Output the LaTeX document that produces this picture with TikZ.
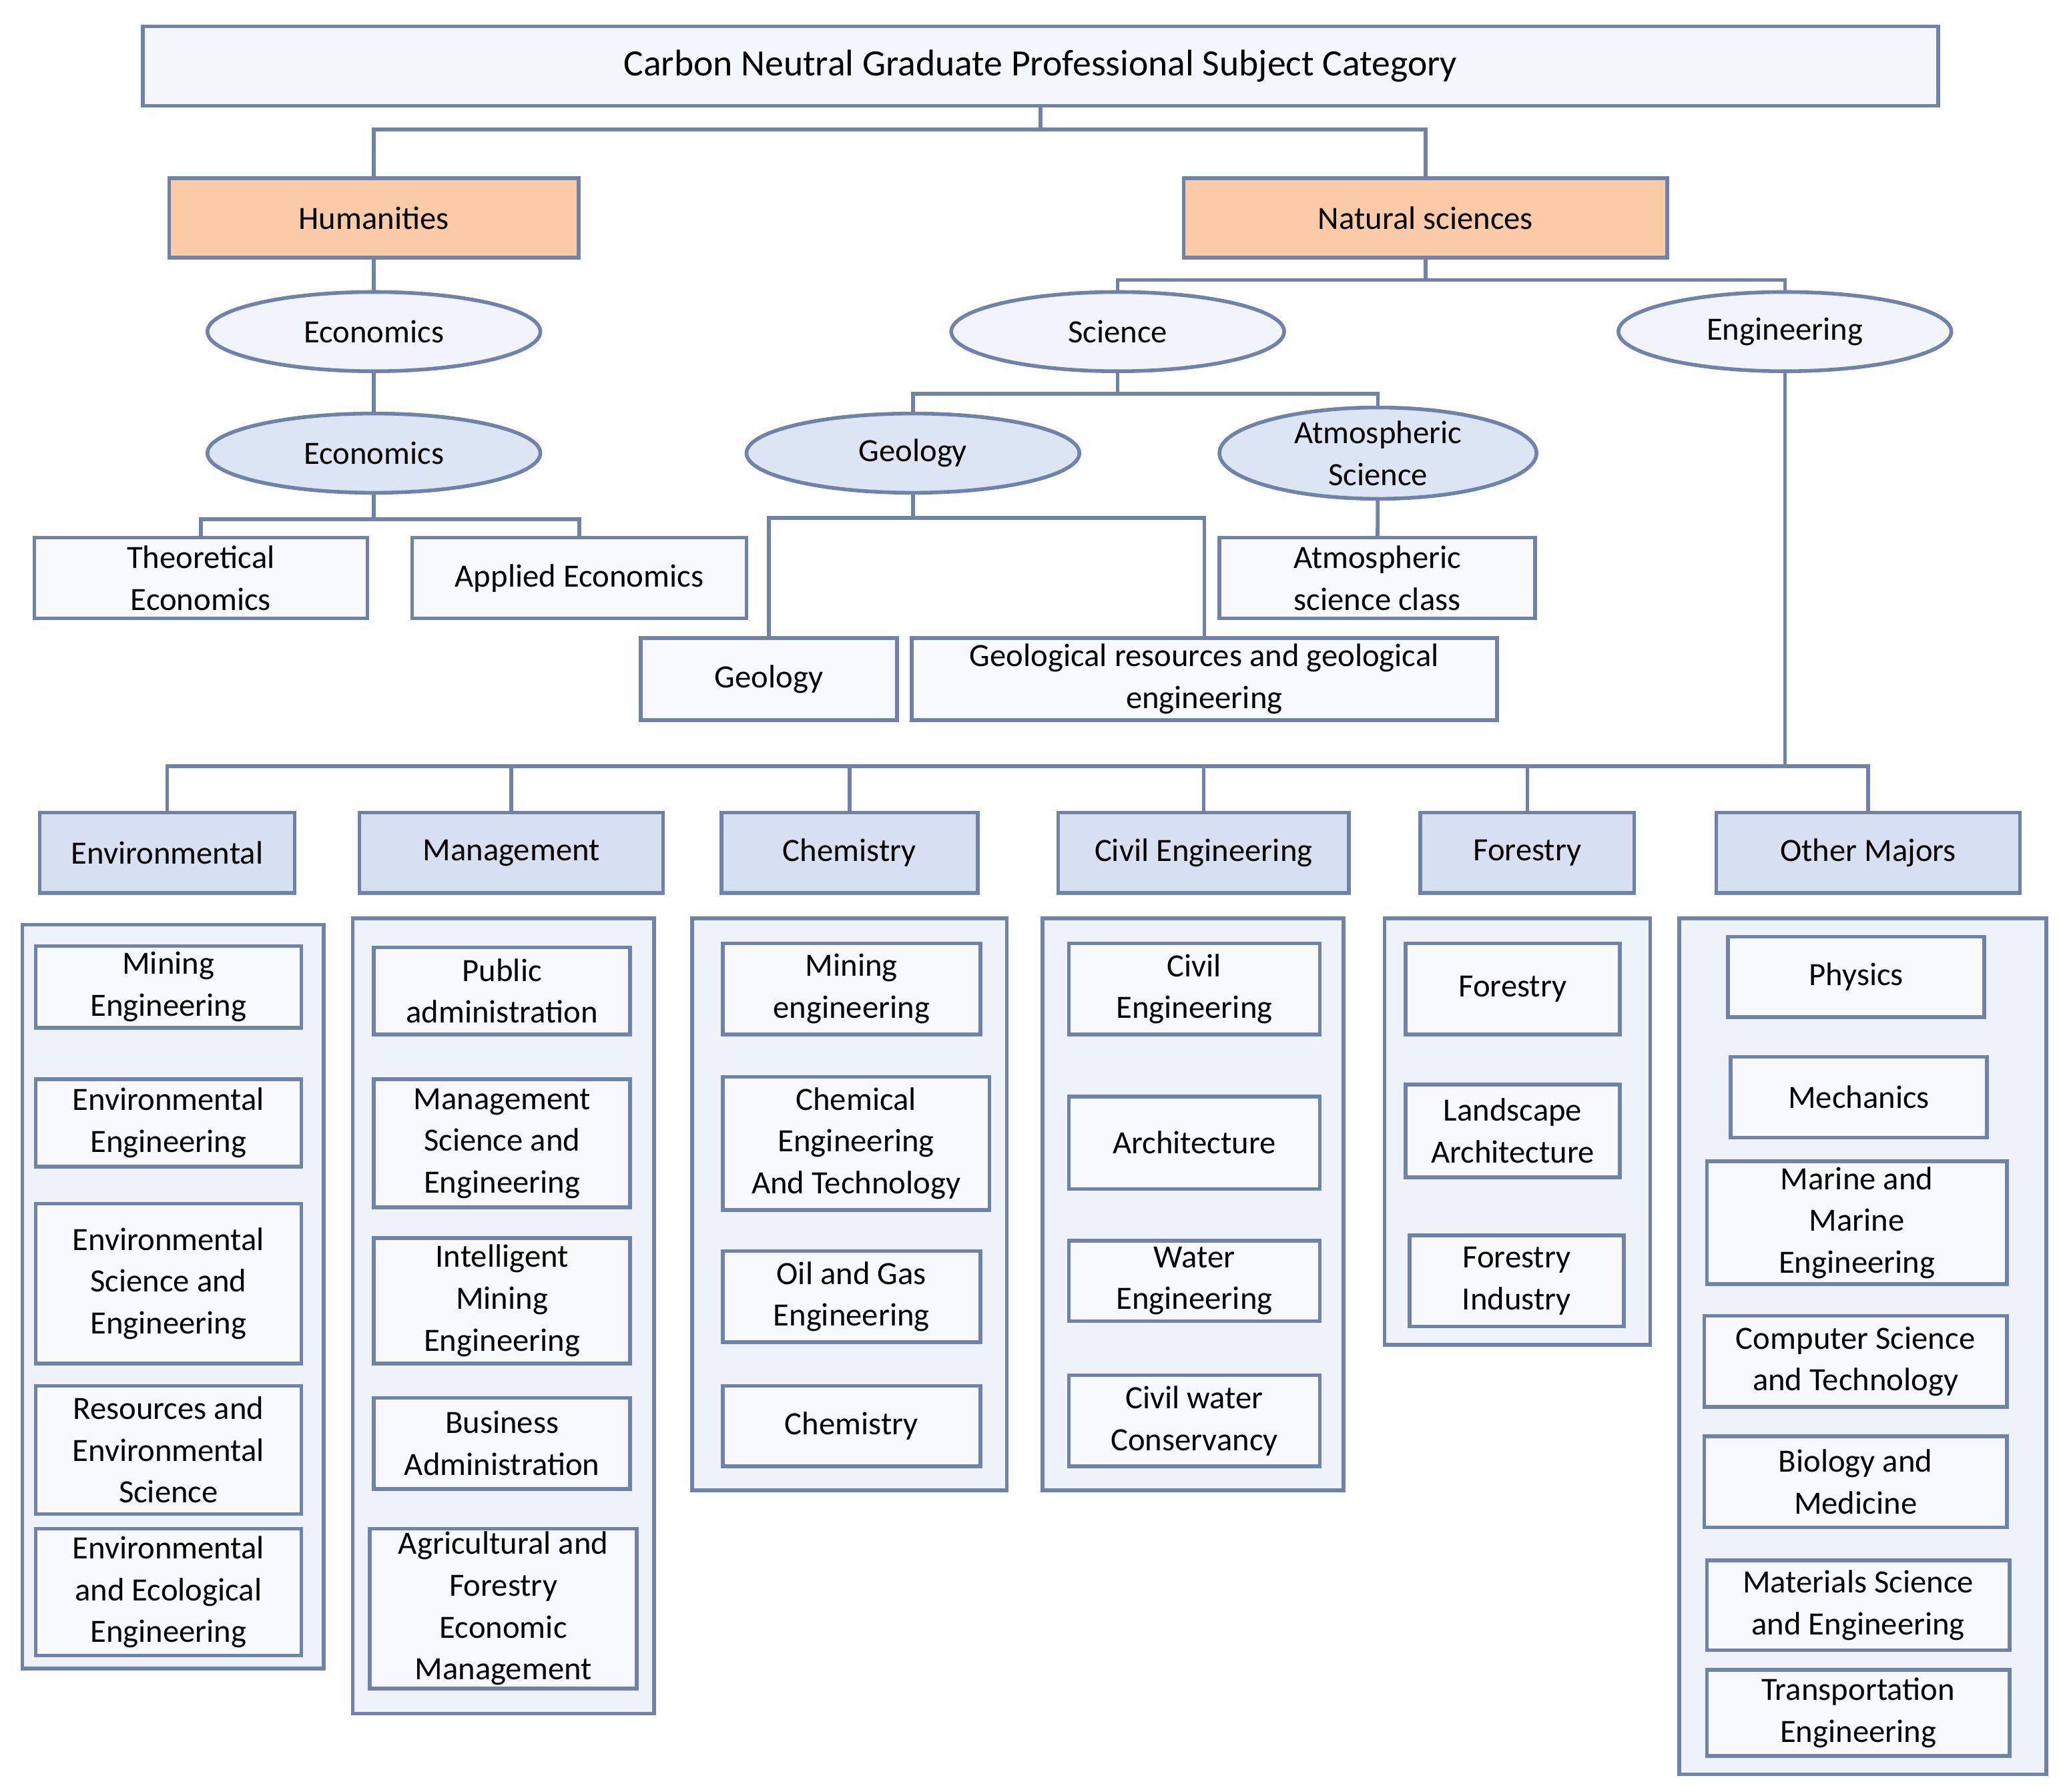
\documentclass[tikz,border=0pt]{standalone}
\usepackage{fontspec}
\setmainfont{Carlito}
\usetikzlibrary{shapes.geometric}
\definecolor{edge}{HTML}{6F82AA}
\definecolor{peach}{HTML}{FBCBA8}
\definecolor{paleblue}{HTML}{DCE5F4}
\definecolor{catblue}{HTML}{D6E0F1}
\definecolor{panel}{HTML}{EEF3FA}
\definecolor{itemfill}{HTML}{F7F9FD}
\def\pxu{0.02cm}
% box from corner (x1,y1) to (x2,y2), picture units, y downward
\newcommand\bx[7][item]{%
  \node[#1, minimum width={(#5-#3)*\pxu}, minimum height={(#6-#4)*\pxu}]
    (#2) at ({(#3+#5)/2},{(#4+#6)/2}) {#7};}
\tikzset{
  box/.style={draw=edge, line width=1.6pt, inner sep=0pt, align=center,
    font=\fontsize{14}{18}\selectfont},
  item/.style={box, fill=itemfill},
  cat/.style={box, fill=catblue},
  top/.style={box, fill=peach},
  oval/.style={box, ellipse, fill=white!60!paleblue},
  ovalfill/.style={box, ellipse, fill=paleblue},
  group/.style={draw=edge, line width=1.6pt, fill=panel},
  link/.style={draw=edge, line width=1.6pt}
}
\begin{document}
\begin{tikzpicture}[x=0.02cm, y=-0.02cm]
  \useasboundingbox (0,0) rectangle (1560,1356);

  % bus lines
  \coordinate (b1) at (0,98);
  \coordinate (b2) at (0,212);
  \coordinate (b3) at (0,298);
  \coordinate (b4) at (0,393);
  \coordinate (b5) at (0,392);
  \coordinate (b6) at (0,580);

  \bx[box, fill=panel!70]{title}{108}{20}{1467}{80}{\fontsize{16}{18}\selectfont Carbon Neutral Graduate Professional Subject Category}
  \bx[top]{hum}{128}{135}{438}{195}{Humanities}
  \bx[top]{nat}{896}{135}{1262}{195}{Natural sciences}

  \bx[oval]{econ}{157}{221}{409}{281}{Economics}
  \bx[oval]{sci}{720}{221}{972}{281}{Science}
  \bx[oval]{eng}{1225}{221}{1477}{281}{Engineering}
  \bx[ovalfill]{econb}{157}{313}{409}{373}{Economics}
  \bx[ovalfill]{geo}{565}{313}{817}{373}{Geology}
  \bx[ovalfill]{atm}{923}{313}{1163}{373}{Atmospheric\\Science}

  \bx{theo}{26}{407}{278}{468}{Theoretical\\Economics}
  \bx{appl}{312}{407}{565}{468}{Applied Economics}
  \bx{atmc}{923}{407}{1162}{468}{Atmospheric\\science class}
  \bx{geob}{485}{483}{679}{545}{Geology}
  \bx{geor}{690}{483}{1133}{545}{Geological resources and geological\\engineering}

  \bx[cat]{env}{30}{615}{223}{676}{Environmental}
  \bx[cat]{man}{272}{615}{502}{676}{Management}
  \bx[cat]{chem}{546}{615}{740}{676}{Chemistry}
  \bx[cat]{civ}{801}{615}{1021}{676}{Civil Engineering}
  \bx[cat]{fors}{1075}{615}{1237}{676}{Forestry}
  \bx[cat]{oth}{1299}{615}{1529}{676}{Other Majors}

  \draw[link] (title.south) -- (title.south |- b1) -| (hum.north);
  \draw[link] (title.south) -- (title.south |- b1) -| (nat.north);
  \draw[link] (hum) -- (econ);
  \draw[link] (econ) -- (econb);
  \draw[link] (nat.south) -- (nat.south |- b2) -| (sci.north);
  \draw[link] (nat.south) -- (nat.south |- b2) -| (eng.north);
  \draw[link] (sci.south) -- (sci.south |- b3) -| (geo.north);
  \draw[link] (sci.south) -- (sci.south |- b3) -| (atm.north);
  \draw[link] (econb.south) -- (econb.south |- b4) -| (theo.north);
  \draw[link] (econb.south) -- (econb.south |- b4) -| (appl.north);
  \draw[link] (atm) -- (atmc);
  \draw[link] (geo.south) -- (geo.south |- b5) -| (geob.north);
  \draw[link] (geo.south) -- (geo.south |- b5) -| (geor.north);
  \foreach \c in {env,man,chem,civ,fors,oth}
    \draw[link] (eng.south) -- (eng.south |- b6) -| (\c.north);

  % panels
  \draw[group] (17,700) rectangle (245,1263);
  \draw[group] (267,695) rectangle (495,1297);
  \draw[group] (524,695) rectangle (762,1128);
  \draw[group] (789,695) rectangle (1017,1128);
  \draw[group] (1048,695) rectangle (1249,1018);
  \draw[group] (1271,695) rectangle (1549,1343);

  \bx{env1}{27}{716}{228}{778}{Mining\\Engineering}
  \bx{env2}{27}{817}{228}{883}{Environmental\\Engineering}
  \bx{env3}{27}{911}{228}{1032}{Environmental\\Science and\\Engineering}
  \bx{env4}{27}{1049}{228}{1146}{Resources and\\Environmental\\Science}
  \bx{env5}{27}{1157}{228}{1253}{Environmental\\and Ecological\\Engineering}

  \bx{man1}{283}{717}{477}{783}{Public\\administration}
  \bx{man2}{283}{817}{477}{914}{Management\\Science and\\Engineering}
  \bx{man3}{283}{937}{477}{1032}{Intelligent\\Mining\\Engineering}
  \bx{man4}{283}{1058}{477}{1127}{Business\\Administration}
  \bx{man5}{280}{1157}{482}{1278}{Agricultural and\\Forestry\\Economic\\Management}

  \bx{chem1}{547}{714}{742}{783}{Mining\\engineering}
  \bx{chem2}{547}{815}{749}{916}{Chemical\\Engineering\\And Technology}
  \bx{chem3}{547}{947}{742}{1016}{Oil and Gas\\Engineering}
  \bx{chem4}{547}{1049}{742}{1110}{Chemistry}

  \bx{civ1}{809}{714}{999}{783}{Civil\\Engineering}
  \bx{civ2}{809}{830}{999}{900}{Architecture}
  \bx{civ3}{809}{939}{999}{1000}{Water\\Engineering}
  \bx{civ4}{809}{1041}{999}{1110}{Civil water\\Conservancy}

  \bx{fors1}{1064}{714}{1226}{783}{Forestry}
  \bx{fors2}{1064}{821}{1226}{891}{Landscape\\Architecture}
  \bx{fors3}{1067}{935}{1229}{1004}{Forestry\\Industry}

  \bx{oth1}{1308}{709}{1502}{770}{Physics}
  \bx{oth2}{1310}{800}{1504}{861}{Mechanics}
  \bx{oth3}{1292}{879}{1519}{972}{Marine and\\Marine\\Engineering}
  \bx{oth4}{1290}{996}{1519}{1065}{Computer Science\\and Technology}
  \bx{oth5}{1290}{1087}{1519}{1156}{Biology and\\Medicine}
  \bx{oth6}{1292}{1181}{1521}{1249}{Materials Science\\and Engineering}
  \bx{oth7}{1292}{1264}{1521}{1329}{Transportation\\Engineering}
\end{tikzpicture}
\end{document}
